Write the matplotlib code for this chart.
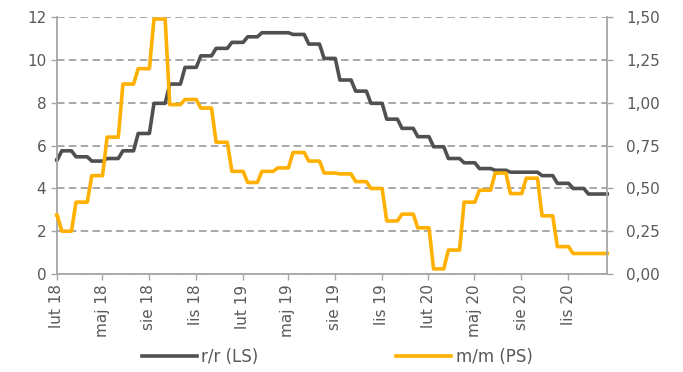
import pandas as pd
import matplotlib
matplotlib.use('Agg')
import matplotlib.pyplot as plt
from matplotlib.ticker import FuncFormatter

# monthly readings, Jan 2018 - Dec 2020
months = pd.date_range('2018-01-01', '2020-12-01', freq='MS')
rr = [5.33, 5.76, 5.48, 5.28, 5.40, 5.76, 6.57, 7.98, 8.88, 9.66, 10.20, 10.55,
      10.83, 11.09, 11.28, 11.28, 11.20, 10.75, 10.08, 9.07, 8.55, 7.98, 7.24, 6.81,
      6.42, 5.95, 5.40, 5.20, 4.93, 4.85, 4.76, 4.76, 4.60, 4.24, 4.00, 3.74]
mm = [0.345, 0.25, 0.42, 0.575, 0.80, 1.11, 1.20, 1.49, 0.99, 1.02, 0.97, 0.77,
      0.60, 0.535, 0.60, 0.62, 0.71, 0.66, 0.59, 0.585, 0.54, 0.50, 0.31, 0.35,
      0.27, 0.03, 0.14, 0.42, 0.49, 0.59, 0.47, 0.56, 0.34, 0.16, 0.12, 0.12]

month_names = ['sty', 'lut', 'mar', 'kwi', 'maj', 'cze',
               'lip', 'sie', 'wrz', 'paź', 'lis', 'gru']

x_start = pd.Timestamp('2018-02-01')
x_end = pd.Timestamp('2021-01-17')

GREY_TXT = '#595959'
GREY_AX = '#A6A6A6'


def step_series(values):
    # each month's value holds until early in the next month, then moves over ~a week
    xs = [x_start]
    ys = [values[0]]
    for i in range(1, len(values)):
        xs += [months[i] + pd.Timedelta(days=1), months[i] + pd.Timedelta(days=10)]
        ys += [values[i - 1], values[i]]
    xs.append(x_end)
    ys.append(values[-1])
    return xs, ys


fig = plt.figure(figsize=(6.83, 3.72), dpi=100)
ax = fig.add_axes([0.083, 0.2634, 0.8061, 0.690])
ax2 = ax.twinx()

x1, y1 = step_series(rr)
x2, y2 = step_series(mm)
l1, = ax.plot(x1, y1, color='#505050', lw=2.6, clip_on=False)
l2, = ax2.plot(x2, y2, color='#FFB000', lw=2.6, clip_on=False)

ax.set_xlim(x_start, x_end)
ax.set_ylim(0, 12)
ax.set_yticks(range(0, 13, 2))
ax2.set_ylim(0, 1.5)
ax2.set_yticks([0, 0.25, 0.5, 0.75, 1.0, 1.25, 1.5])
ax2.yaxis.set_major_formatter(FuncFormatter(lambda v, p: f'{v:.2f}'.replace('.', ',')))

tick_dates = pd.date_range('2018-02-01', '2020-11-01', freq='3MS')
ax.set_xticks(tick_dates)
ax.set_xticklabels([f'{month_names[d.month - 1]} {d.year % 100}' for d in tick_dates],
                   rotation=90)

ax.yaxis.grid(True, linestyle=(0, (4.5, 2.6)), color='#9A9A9A', lw=1.2)
ax.set_axisbelow(True)

for s in ['top', 'right']:
    ax.spines[s].set_visible(False)
for s in ['top', 'left', 'bottom']:
    ax2.spines[s].set_visible(False)
for sp in [ax.spines['left'], ax.spines['bottom'], ax2.spines['right']]:
    sp.set_color(GREY_AX)
    sp.set_linewidth(1.3)

ax.tick_params(axis='y', direction='out', length=4.5, width=1, color=GREY_AX,
               labelcolor=GREY_TXT, labelsize=11, pad=3)
ax.tick_params(axis='x', direction='out', length=4.5, width=1, color=GREY_AX,
               labelcolor=GREY_TXT, labelsize=11, pad=3)
ax2.tick_params(axis='y', direction='out', length=4.5, width=1, color=GREY_AX,
                labelcolor=GREY_TXT, labelsize=11, pad=9)

fig.legend([l1, l2], ['r/r (LS)', 'm/m (PS)'], loc='center left',
           bbox_to_anchor=(141.7 / 683, 1 - 357 / 372), ncol=2, frameon=False,
           fontsize=12, handlelength=3.3, handletextpad=0.25, columnspacing=8.3,
           borderpad=0, borderaxespad=0, labelcolor=GREY_TXT)

fig.savefig('out.png', dpi=100)
